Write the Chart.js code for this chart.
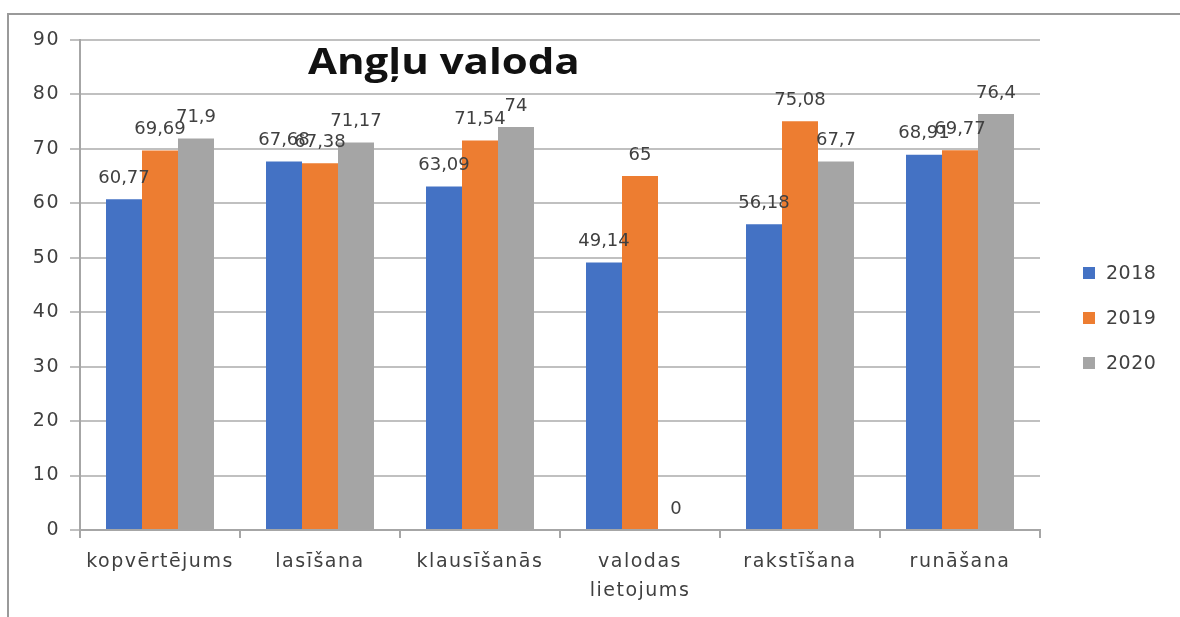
<!DOCTYPE html>
<html>
<head>
<meta charset="utf-8">
<script src="https://cdn.jsdelivr.net/npm/chart.js@4"></script>
<style>
    body { margin: 0; background: #fff; }
    #wrap { position: relative; width: 1180px; height: 617px; overflow: hidden; }
    #frame { position: absolute; left: 7px; top: 13px; width: 1300px; height: 700px;
             border-top: 2px solid #9a9a9a; border-left: 2px solid #9a9a9a; }
    #title { position: absolute; left: 308px; top: 37px; font: bold 35px "Open Sans", sans-serif;
             color: #111; white-space: nowrap; transform: scaleX(1.2); transform-origin: left top; }
    canvas { position: absolute; left: 0; top: 0; }
</style>
</head>
<body>
<div id="wrap">
    <div id="frame"></div>
    <canvas id="chart" width="1180" height="617"></canvas>
    <div id="title">Angļu valoda</div>
</div>
<script>
const categories = ['kopvērtējums', 'lasīšana', 'klausīšanās', ['valodas', 'lietojums'], 'rakstīšana', 'runāšana'];
const years = ['2018', '2019', '2020'];
const values2018 = [60.77, 67.68, 63.09, 49.14, 56.18, 68.91];
const values2019 = [69.69, 67.38, 71.54, 65, 75.08, 69.77];
const values2020 = [71.9, 71.17, 74, 0, 67.7, 76.4];
const yTicks = [0, 10, 20, 30, 40, 50, 60, 70, 80, 90];
const colors = ['#4472C4', '#ED7D31', '#A5A5A5'];

const textColor = '#404040';
const fontFamily = '"DejaVu Sans", Verdana, sans-serif';

// axis text in the original is spaced out a little
const spacing = {
    id: 'spacing',
    beforeDraw(chart) {
        chart.ctx.letterSpacing = '1.5px';
    }
};

// value labels above bars, with comma decimals
const barLabels = {
    id: 'barLabels',
    afterDatasetsDraw(chart) {
        const ctx = chart.ctx;
        ctx.save();
        ctx.letterSpacing = '0px';
        ctx.font = '18px ' + fontFamily;
        ctx.fillStyle = textColor;
        ctx.textAlign = 'center';
        ctx.textBaseline = 'bottom';
        chart.data.datasets.forEach((ds, i) => {
            chart.getDatasetMeta(i).data.forEach((bar, j) => {
                const txt = String(ds.data[j]).replace('.', ',');
                ctx.fillText(txt, bar.x, bar.y - 12);
            });
        });
        ctx.restore();
    }
};

// legend on the right
const sideLegend = {
    id: 'sideLegend',
    afterDraw(chart) {
        const ctx = chart.ctx;
        ctx.save();
        ctx.letterSpacing = '0.5px';
        ctx.font = '19px ' + fontFamily;
        ctx.textBaseline = 'middle';
        chart.data.datasets.forEach((ds, i) => {
            const y = 273 + i * 45;
            ctx.fillStyle = ds.backgroundColor;
            ctx.fillRect(1083, y - 6, 12, 12);
            ctx.fillStyle = textColor;
            ctx.fillText(ds.label, 1106, y + 1);
        });
        ctx.restore();
    }
};

new Chart(document.getElementById('chart'), {
    type: 'bar',
    data: {
        labels: categories,
        datasets: [
            { label: years[0], data: values2018, backgroundColor: colors[0] },
            { label: years[1], data: values2019, backgroundColor: colors[1] },
            { label: years[2], data: values2020, backgroundColor: colors[2] }
        ]
    },
    options: {
        responsive: false,
        animation: false,
        layout: { padding: { left: 0, right: 140, top: 40, bottom: 0 } },
        datasets: { bar: { categoryPercentage: 0.675, barPercentage: 1 } },
        plugins: {
            legend: { display: false },
            tooltip: { enabled: false }
        },
        scales: {
            x: {
                grid: { display: true, drawOnChartArea: false, drawTicks: true, tickLength: 8, color: '#a6a6a6', lineWidth: 2 },
                border: { display: true, color: '#a6a6a6', width: 2 },
                ticks: { color: textColor, font: { family: fontFamily, size: 19, lineHeight: 1.5 }, padding: 10, maxRotation: 0 },
                afterFit(scale) { scale.height = 87; }
            },
            y: {
                min: 0,
                max: 90,
                afterBuildTicks(scale) { scale.ticks = yTicks.map(v => ({ value: v })); },
                grid: { color: '#c0c0c0', lineWidth: 2, drawTicks: true, tickLength: 10 },
                border: { display: true, color: '#a6a6a6', width: 2 },
                ticks: { color: textColor, font: { family: fontFamily, size: 19 }, padding: 10 },
                afterFit(scale) { scale.width = 80; }
            }
        }
    },
    plugins: [spacing, barLabels, sideLegend]
});
</script>
</body>
</html>
